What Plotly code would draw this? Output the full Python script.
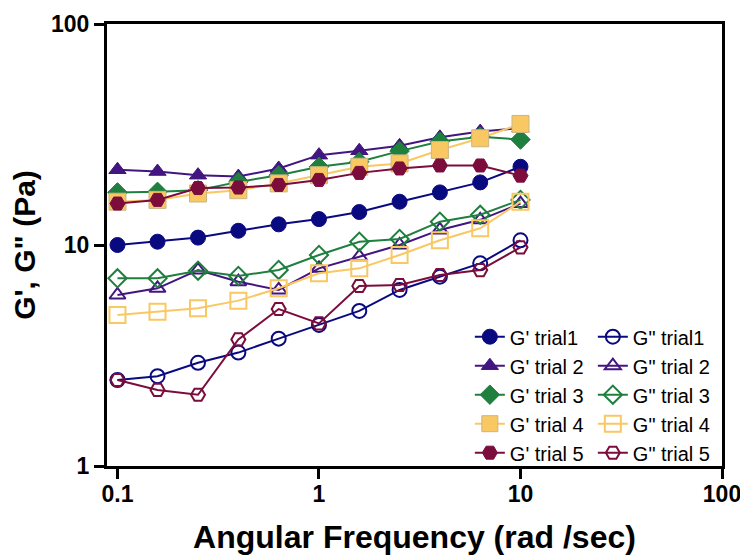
import plotly.graph_objects as go

freq = [0.1, 0.158, 0.251, 0.398, 0.631, 1.0, 1.585, 2.512, 3.981, 6.31, 10.0]
gp1 = [10.0, 10.35, 10.8, 11.6, 12.4, 13.1, 14.1, 15.7, 17.3, 19.2, 22.6]
gp2 = [21.9, 21.5, 20.7, 20.4, 22.2, 25.5, 26.7, 28.1, 30.7, 32.6, 33.8]
gp3 = [17.3, 17.4, 17.7, 19.3, 20.7, 22.6, 23.8, 26.6, 29.4, 30.9, 30.0]
gp4 = [15.7, 16.0, 17.1, 17.7, 19.0, 20.7, 22.6, 23.4, 26.9, 30.4, 35.3]
gp5 = [15.4, 16.0, 18.1, 18.2, 18.7, 19.7, 21.2, 22.2, 22.9, 22.9, 20.6]
gpp1 = [2.45, 2.55, 2.93, 3.26, 3.77, 4.35, 5.03, 6.26, 7.19, 8.26, 10.5]
gpp2 = [5.94, 6.37, 7.7, 6.82, 6.26, 7.84, 8.85, 10.0, 11.7, 13.0, 15.4]
gpp3 = [7.07, 7.07, 7.65, 7.24, 7.71, 9.01, 10.35, 10.65, 12.75, 13.7, 16.0]
gpp4 = [4.82, 4.99, 5.17, 5.6, 6.37, 7.45, 7.84, 9.01, 10.5, 11.9, 15.7]
gpp5 = [2.45, 2.21, 2.10, 3.74, 5.13, 4.42, 6.52, 6.59, 7.32, 7.7, 9.76]

gp_names = ["G' trial1", "G' trial 2", "G' trial 3", "G' trial 4", "G' trial 5"]
gpp_names = ['G" trial1', 'G" trial 2', 'G" trial 3', 'G" trial 4', 'G" trial 5']
colors = ["#0a0a80", "#431580", "#1f7f3f", "#f9c862", "#7b0c3c"]
symbols = ["circle", "triangle-up", "diamond", "square", "hexagon2"]
sizes = [15, 15, 15, 17, 15]

x_ticks = [0.1, 1, 10, 100]
x_ticklabels = ["0.1", "1", "10", "100"]
y_ticks = [1, 10, 100]
y_ticklabels = ["1", "10", "100"]

gp_data = [gp1, gp2, gp3, gp4, gp5]
gpp_data = [gpp1, gpp2, gpp3, gpp4, gpp5]

fig = go.Figure()
for i in range(5):
    edge = "#c9b583" if i == 3 else colors[i]
    fig.add_trace(go.Scatter(
        x=freq, y=gp_data[i], name=gp_names[i], mode="lines+markers",
        line=dict(color=colors[i], width=2),
        marker=dict(symbol=symbols[i], size=sizes[i], color=colors[i],
                    line=dict(color=edge, width=1)),
        legend="legend"))
for i in range(5):
    fig.add_trace(go.Scatter(
        x=freq, y=gpp_data[i], name=gpp_names[i], mode="lines+markers",
        line=dict(color=colors[i], width=2),
        marker=dict(symbol=symbols[i] + "-open", size=sizes[i] - 1, color=colors[i],
                    line=dict(color=colors[i], width=2)),
        legend="legend2"))

axis_common = dict(showline=True, linewidth=3, linecolor="black", mirror=True,
                   ticks="outside", ticklen=10, tickwidth=3, tickcolor="black",
                   showgrid=False, zeroline=False, type="log", automargin=False)

fig.update_layout(
    width=740, height=550,
    margin=dict(l=99, r=26, t=16, b=92, autoexpand=False),
    paper_bgcolor="white", plot_bgcolor="white",
    font=dict(family="Liberation Sans, Arial, sans-serif", color="black"),
    xaxis=dict(axis_common, range=[-1.052, 2.0], tickvals=x_ticks, ticktext=x_ticklabels,
               tickfont=dict(size=23, family="Liberation Sans, Arial", weight="bold"),
               ticklabelstandoff=-5,
               title=dict(text="<b>Angular Frequency (rad /sec)</b>",
                          font=dict(size=32), standoff=21)),
    yaxis=dict(axis_common, range=[0, 2.0], tickvals=y_ticks, ticktext=y_ticklabels,
               tickfont=dict(size=23, family="Liberation Sans, Arial", weight="bold"),
               title=dict(text="<b>G', G\" (Pa)</b>", font=dict(size=30), standoff=7)),
    legend=dict(x=0.59, xanchor="left", y=-0.014, yanchor="bottom",
                bgcolor="rgba(0,0,0,0)", font=dict(size=20), tracegroupgap=0),
    legend2=dict(x=0.79, xanchor="left", y=-0.014, yanchor="bottom",
                 bgcolor="rgba(0,0,0,0)", font=dict(size=20), tracegroupgap=0),
    showlegend=True,
)

fig.write_html("out.html")
